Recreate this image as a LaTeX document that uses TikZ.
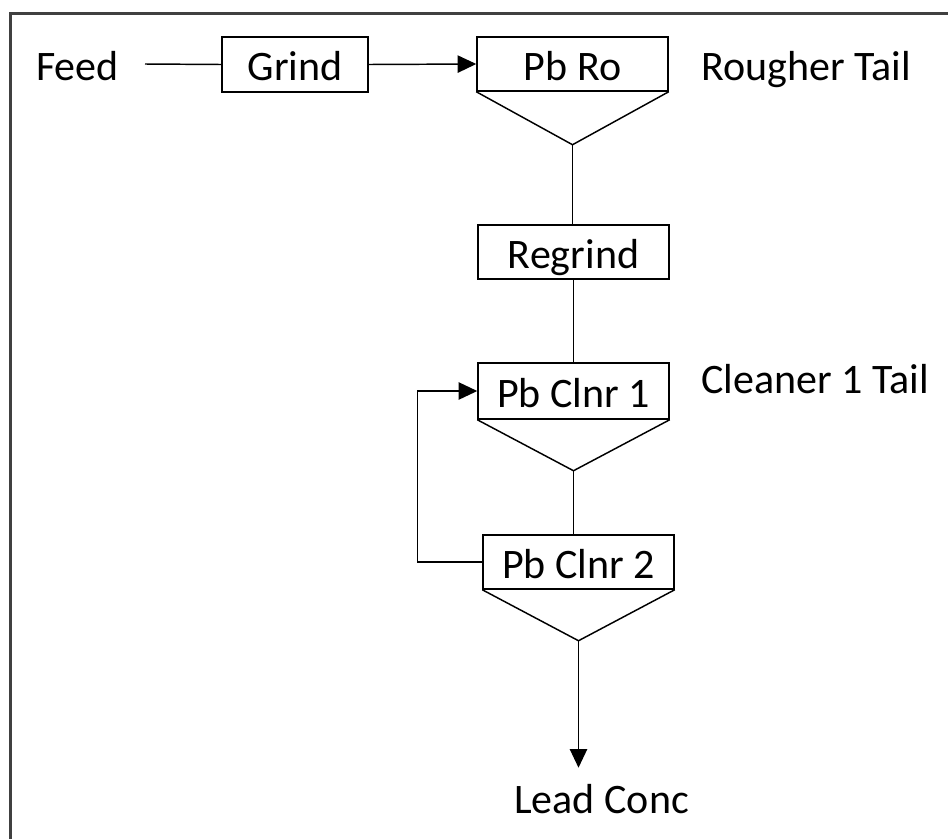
\documentclass[tikz,border=0pt]{standalone}
\usepackage{fontspec}
\setmainfont{Carlito}
\usetikzlibrary{arrows.meta,calc}
\begin{document}
\begin{tikzpicture}[x=0.75pt,y=-0.75pt,
  txt/.style={font=\fontsize{31.5}{38}\selectfont, inner sep=0pt},
  unitbox/.style={draw, line width=1.1pt, minimum width=143.25pt, minimum height=40.5pt, inner sep=0pt,
    text height=24pt, text depth=0pt, font=\fontsize{31.5}{38}\selectfont},
  flow/.style={line width=1.1pt},
  arr/.style={flow, -{Triangle[length=14pt,width=13pt]}},
  frame/.style={line width=2.4pt, color=black!75}
]
\useasboundingbox (0,0) rectangle (948,839);
\draw[frame] (10.5,839) -- (10.5,13.5) -- (948,13.5);

\node[txt, anchor=base west] (feed) at (36,80) {Feed};
\coordinate (feedEnd) at (145,64);
\node[unitbox, minimum width=109.5pt, minimum height=41.25pt] (grind) at (295,64.5) {Grind};
\node[unitbox] (ro) at (572.5,64) {Pb Ro};
\node[txt, anchor=base west] (rtail) at (701,80) {Rougher Tail};
\node[unitbox] (regrind) at (573.5,252) {Regrind};
\node[unitbox, minimum height=42pt] (c1) at (573.5,391) {Pb Clnr 1};
\node[txt, anchor=base west] (ctail) at (701,393) {Cleaner 1 Tail};
\node[unitbox] (c2) at (578.5,562) {Pb Clnr 2};
\node[txt, anchor=base west] (lead) at (514,813) {Lead Conc};

\coordinate (roA) at ($(ro.south)+(0,53)$);
\coordinate (c1A) at ($(c1.south)+(0,51)$);
\coordinate (c2A) at ($(c2.south)+(0,51)$);
\coordinate (concTip) at ($(c2A)+(0,127)$);

\draw[flow] (ro.south west) -- (roA) -- (ro.south east);
\draw[flow] (c1.south west) -- (c1A) -- (c1.south east);
\draw[flow] (c2.south west) -- (c2A) -- (c2.south east);

\draw[flow] (feedEnd) -- (grind.west);
\draw[arr] (grind.east) -- (ro.west);
\draw[flow] (roA) -- (roA |- regrind.north);
\draw[flow] (regrind.south) -- (c1.north);
\draw[flow] (c1A) -- (c1A |- c2.north);
\draw[arr] (c2.west) -- ++(-65,0) |- (c1.west);
\draw[arr] (c2A) -- (concTip);
\end{tikzpicture}
\end{document}
